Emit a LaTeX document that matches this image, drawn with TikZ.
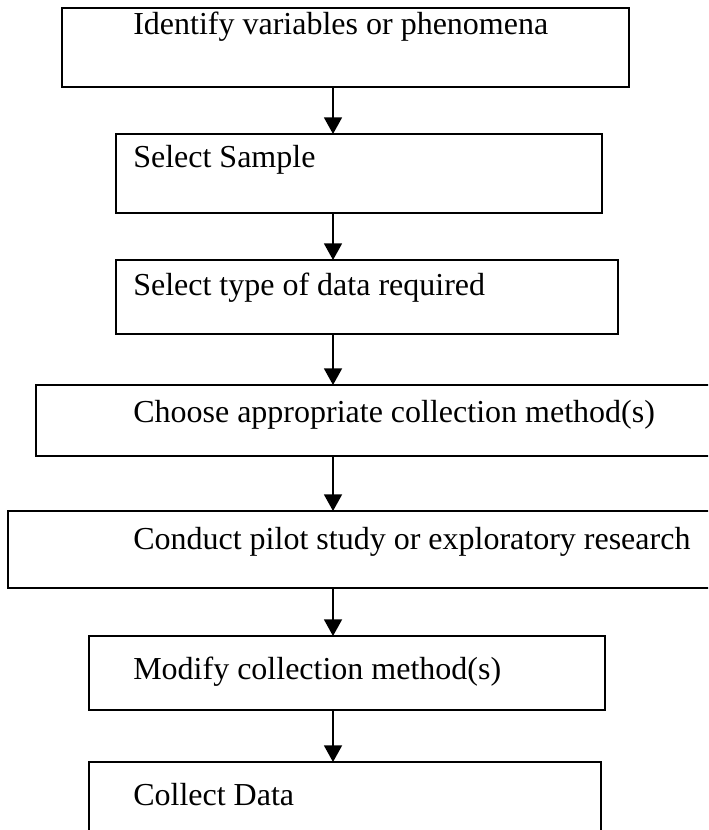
\documentclass[tikz,border=0pt]{standalone}
\usepackage{fontspec}
\setmainfont{Liberation Serif}
\usetikzlibrary{arrows.meta}
\begin{document}
\begin{tikzpicture}[x=0.75pt,y=-0.75pt,
  stepbox/.style={draw=black, line width=1.2pt, inner sep=0pt, outer sep=0pt, anchor=north west},
  steptext/.style={anchor=base west, inner sep=0pt, font=\fontsize{24}{28}\selectfont},
  flow/.style={draw=black, line width=1.3pt, -{Triangle[width=13.5pt,length=12.5pt]}}]
\useasboundingbox (0,0) rectangle (708,830);
\fill[white] (0,0) rectangle (708,830);
\clip (0,0) rectangle (708,830);

% process boxes (the fourth, fifth and last run past the page edge)
\node[stepbox, minimum width=425.25pt, minimum height=59.25pt] (b1) at (62,8) {};
\node[stepbox, minimum width=364.5pt,  minimum height=59.25pt] (b2) at (116,134) {};
\node[stepbox, minimum width=376.5pt,  minimum height=55.5pt]  (b3) at (116,260) {};
\node[stepbox, minimum width=525pt,    minimum height=53.25pt] (b4) at (36,385) {};
\node[stepbox, minimum width=547.5pt,  minimum height=57.75pt] (b5) at (8,511) {};
\node[stepbox, minimum width=387pt,    minimum height=55.5pt]  (b6) at (89,636) {};
\node[stepbox, minimum width=384pt,    minimum height=75pt]    (b7) at (89,762) {};

% step labels
\node[steptext] (t1) at (133,35)  {Identify variables or phenomena};
\node[steptext] (t2) at (133,168) {Select Sample};
\node[steptext] (t3) at (133,295) {Select type of data required};
\node[steptext] (t4) at (133,422) {Choose appropriate collection method(s)};
\node[steptext] (t5) at (133,549) {Conduct pilot study or exploratory research};
\node[steptext] (t6) at (133,679) {Modify collection method(s)};
\node[steptext] (t7) at (133,805) {Collect Data};

% connectors share one vertical axis
\coordinate (ax) at (333,0);
\draw[flow] (b1.south -| ax) -- (b2.north -| ax);
\draw[flow] (b2.south -| ax) -- (b3.north -| ax);
\draw[flow] (b3.south -| ax) -- (b4.north -| ax);
\draw[flow] (b4.south -| ax) -- (b5.north -| ax);
\draw[flow] (b5.south -| ax) -- (b6.north -| ax);
\draw[flow] (b6.south -| ax) -- (b7.north -| ax);
\end{tikzpicture}
\end{document}
